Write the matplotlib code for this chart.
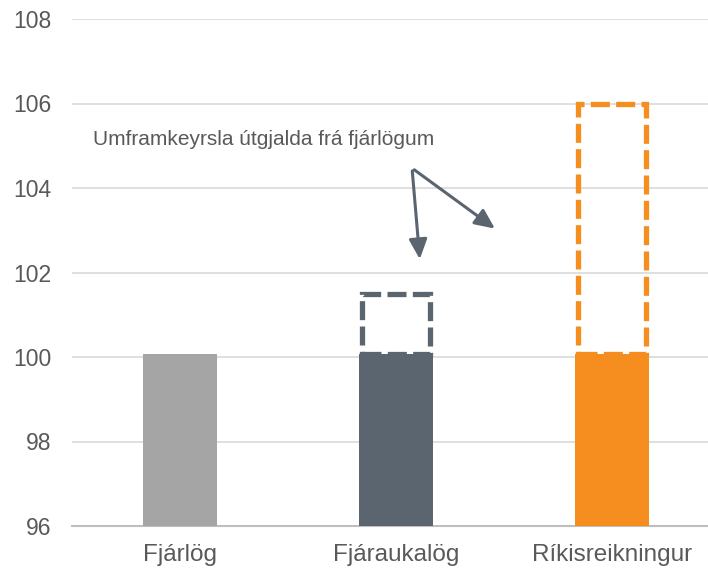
import matplotlib
matplotlib.use("Agg")
import matplotlib.pyplot as plt
from matplotlib.patches import Rectangle

categories = ["Fjárlög", "Fjáraukalög", "Ríkisreikningur"]
base_values = [100.07, 100.07, 100.07]
outturn_values = [None, 101.5, 106.0]
colors = ["#a5a5a5", "#5b6570", "#f58d1f"]
yticks = [96, 98, 100, 102, 104, 106, 108]
annotation_text = "Umframkeyrsla útgjalda frá fjárlögum"

plt.rcParams['font.family'] = ['Liberation Sans', 'DejaVu Sans']
fig = plt.figure(figsize=(7.08, 5.68), dpi=100)
ax = fig.add_axes([72/708, 42/568, (708-72)/708, (526-19)/568])

x = list(range(len(categories)))
width = 0.34
ax.bar(x, [v - 96 for v in base_values], bottom=96, width=width, color=colors, zorder=3)

for xi, top, b, c in zip(x, outturn_values, base_values, colors):
    if top is None:
        continue
    r = Rectangle((xi - width/2 + 0.012, b), width - 0.024, top - b, fill=False,
                  edgecolor=c, linewidth=3.8, linestyle=(0, (3.6, 1.2)), zorder=4)
    ax.add_patch(r)

ax.set_ylim(96, 108)
ax.set_xlim(-0.5, 2.444)
ax.set_yticks(yticks)
ax.set_xticks(x)
ax.set_xticklabels(categories)
ax.tick_params(axis='both', length=0, colors="#595959")
ax.tick_params(axis='y', pad=15, labelsize=16.5)
ax.tick_params(axis='x', pad=13, labelsize=17.5)
ax.grid(axis='y', color="#d9d9d9", linewidth=1.2, zorder=0)
for s in ["top", "right", "left"]:
    ax.spines[s].set_visible(False)
ax.spines["bottom"].set_color("#bfbfbf")
ax.spines["bottom"].set_linewidth(1.5)

ax.text(-0.403, 105.14, annotation_text, fontsize=15, color="#595959",
        va="center", ha="left")
arrow_kw = dict(arrowstyle="-|>,head_length=1.2,head_width=0.55", color="#5b6570", lw=2.2)
ax.annotate("", xy=(1.111, 102.25), xytext=(1.074, 104.47), arrowprops=arrow_kw)
ax.annotate("", xy=(1.468, 103.0), xytext=(1.074, 104.47), arrowprops=arrow_kw)

fig.savefig("out.png", dpi=100)
